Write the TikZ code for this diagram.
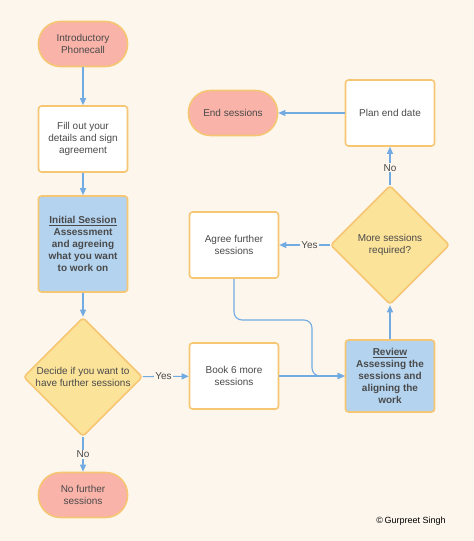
\documentclass[tikz,border=0pt]{standalone}
\usepackage{fontspec}
\setmainfont{Liberation Sans}
\usetikzlibrary{shapes.geometric,arrows.meta}
\definecolor{bgcream}{HTML}{FDF6EC}
\definecolor{edgeorange}{HTML}{F6C673}
\definecolor{termred}{HTML}{F9B3A9}
\definecolor{sessblue}{HTML}{B3D3EF}
\definecolor{decyellow}{HTML}{FCE39A}
\definecolor{flowblue}{HTML}{72AAE2}
\definecolor{txtgray}{HTML}{4A4A4A}
\tikzset{
  box/.style={draw=edgeorange, line width=1.6pt, rounded corners=3pt, fill=white,
    minimum width=89pt, minimum height=66pt, inner sep=0pt, align=center,
    text=txtgray, font=\fontsize{10}{12}\selectfont},
  term/.style={box, fill=termred, rounded corners=22pt, minimum height=45pt},
  sess/.style={box, fill=sessblue, font=\fontsize{10}{12}\selectfont\bfseries},
  decide/.style={diamond, draw=edgeorange, fill=decyellow, line width=1.6pt,
    rounded corners=3pt, minimum width=119pt, minimum height=119pt, inner sep=0pt,
    align=center, text=txtgray, font=\fontsize{10}{12}\selectfont},
  flow/.style={draw=flowblue, line width=1.1pt, -{Triangle[length=7pt,width=6pt]}},
  lbl/.style={fill=bgcream, inner sep=1pt, text=txtgray, font=\fontsize{10}{12}\selectfont}
}
\begin{document}
\begin{tikzpicture}[x=1pt,y=-1pt]
  \fill[bgcream] (0,0) rectangle (474,541);

  % left column
  \node[term] (phone) at (83,44) {Introductory\\Phonecall};
  \node[box] (fill) at (83,139) {Fill out your\\details and sign\\agreement};
  \node[sess, minimum height=96pt] (initial) at (83,244)
    {\underline{Initial Session}\\Assessment\\and agreeing\\what you want\\to work on};
  \node[decide] (decide) at (83,377) {Decide if you want to\\have further sessions};
  \node[term] (nofurther) at (83,495) {No further\\sessions};

  % middle and right columns
  \node[box] (book) at (234,376) {Book 6 more\\sessions};
  \node[sess, minimum height=72pt] (review) at (390,376)
    {\underline{Review}\\Assessing the\\sessions and\\aligning the\\work};
  \node[decide] (more) at (390,245) {More sessions\\required?};
  \node[box] (agree) at (234,245) {Agree further\\sessions};
  \node[box] (plan) at (390,113) {Plan end date};
  \node[term] (endsess) at (233,113) {End sessions};

  \node[font=\fontsize{9}{11}\selectfont] (copy) at (411,521) {\textcopyright\,Gurpreet Singh};

  % connectors
  \draw[flow] (phone) -- (fill);
  \draw[flow] (fill) -- (initial);
  \draw[flow] (initial) -- (decide);
  \draw[flow] (decide) -- node[lbl] {No} (nofurther);
  \draw[flow] (decide) -- node[lbl, pos=0.45] {Yes} (book);
  \draw[flow] (book) -- (review);
  \coordinate (bend) at (312,320);
  \draw[flow, rounded corners=8pt] (agree.south) |- (bend) |- (review.west);
  \draw[flow] (review) -- (more);
  \draw[flow] (more) -- node[lbl, pos=0.4] {Yes} (agree);
  \draw[flow] (more) -- node[lbl, pos=0.45] {No} (plan);
  \draw[flow] (plan) -- (endsess);
\end{tikzpicture}
\end{document}
